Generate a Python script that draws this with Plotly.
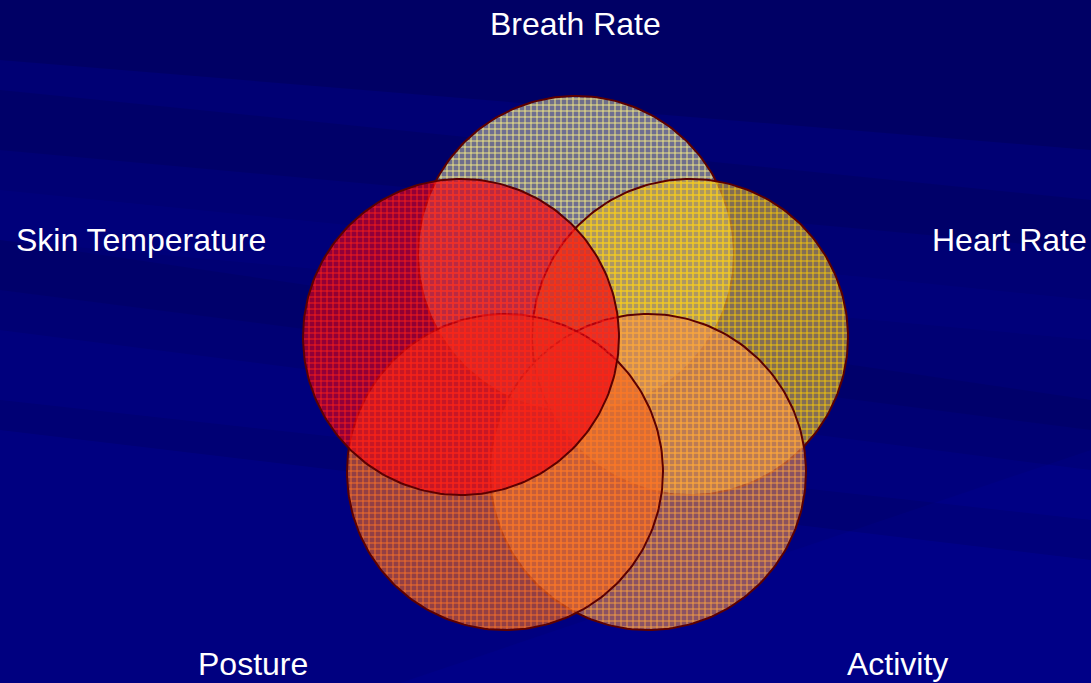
import numpy as np
import plotly.graph_objects as go

W, H = 1091, 683

# ---- data ----
labels = ["Breath Rate", "Heart Rate", "Activity", "Posture", "Skin Temperature"]
center_x = [576, 690, 648, 505, 461]
center_y = [254, 337, 472, 472, 337]
radius = [158, 158, 158, 158, 158]

label_x = [575, 1009, 897, 253, 141]
label_y = [24, 240, 664, 664, 240]

# ---- styles (fill background, grid line colour) ----
bg_colors = ["rgba(190,190,165,0.58)", "rgba(210,175,70,0.62)", "rgba(222,132,80,0.62)",
             "rgba(232,100,35,0.63)", "rgba(230,0,20,0.63)"]
fg_colors = ["rgb(255,245,130)", "rgb(255,205,0)", "rgb(255,165,60)",
             "rgb(255,115,35)", "rgb(255,30,20)"]

fig = go.Figure()

t = np.linspace(0, 2 * np.pi, 241)
for name, cx, cy, r, bgc, fgc in zip(labels, center_x, center_y, radius, bg_colors, fg_colors):
    fig.add_trace(go.Scatter(
        x=cx + r * np.cos(t), y=cy + r * np.sin(t),
        mode="lines", fill="toself", name=name,
        line=dict(color="#5c0000", width=2),
        fillcolor=bgc,
        fillpattern=dict(shape="+", bgcolor=bgc, fgcolor=fgc, fgopacity=0.9,
                         size=6, solidity=0.3, fillmode="replace"),
        hoverinfo="skip", showlegend=False,
    ))

for name, lx, ly in zip(labels, label_x, label_y):
    fig.add_annotation(x=lx, y=ly, text=name, showarrow=False,
                       xanchor="center", yanchor="middle",
                       font=dict(family="Liberation Sans, Arial, sans-serif", size=32, color="white"))

# ---- background streaks ----
bands = [
    ("rgba(0,0,50,0.22)", [(0, 0), (W, 0), (W, 150), (0, 60)]),
    ("rgba(0,0,50,0.15)", [(0, 90), (W, 200), (W, 250), (0, 150)]),
    ("rgba(0,0,200,0.08)", [(0, 190), (W, 300), (W, 340), (0, 240)]),
    ("rgba(0,0,50,0.12)", [(0, 240), (W, 400), (W, 430), (0, 290)]),
    ("rgba(0,0,210,0.10)", [(0, 330), (W, 470), (W, 520), (0, 400)]),
    ("rgba(0,0,220,0.12)", [(0, 430), (W, 560), (W, H), (0, H)]),
    ("rgba(0,0,220,0.08)", [(400, H), (W, 450), (W, H)]),
]
for col, pts in bands:
    path = "M " + " L ".join(f"{x},{y}" for x, y in pts) + " Z"
    fig.add_shape(type="path", path=path, xref="x", yref="y", layer="below",
                  fillcolor=col, line=dict(width=0))

fig.update_layout(
    width=W, height=H,
    margin=dict(l=0, r=0, t=0, b=0),
    paper_bgcolor="#000074", plot_bgcolor="rgba(0,0,0,0)",
    xaxis=dict(range=[0, W], visible=False, fixedrange=True),
    yaxis=dict(range=[H, 0], visible=False, fixedrange=True),
)

fig.write_html("out.html", config={"displayModeBar": False},
               post_script="document.body.style.margin='0';document.body.style.overflow='hidden';")
